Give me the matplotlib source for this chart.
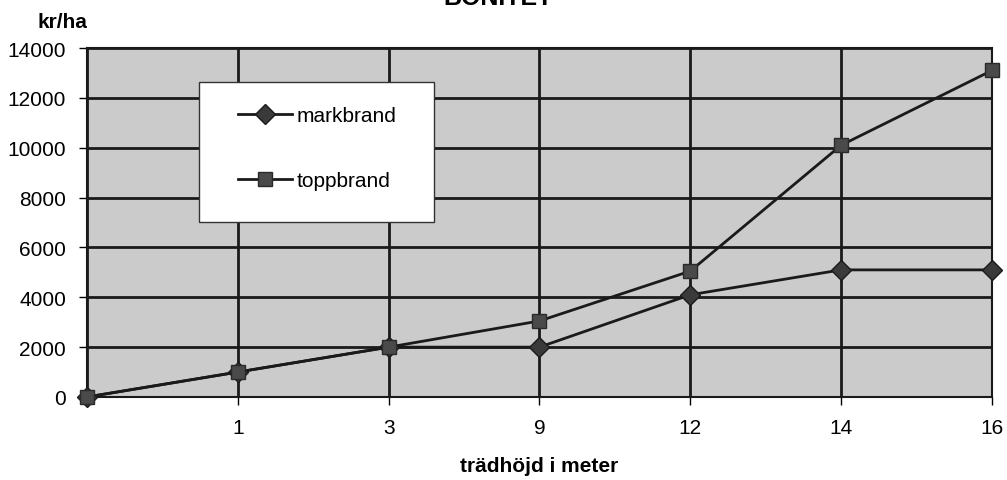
import numpy as np
import matplotlib.pyplot as plt
from matplotlib.patches import Rectangle

plt.rcParams.update({
    "font.family": ["Liberation Sans", "DejaVu Sans"],
    "font.size": 15,
})

categories = ["", "1", "3", "9", "12", "14", "16"]
markbrand = [0, 1000, 2000, 2000, 4100, 5100, 5100]
toppbrand = [0, 1000, 2000, 3050, 5050, 10100, 13100]
yticks = [0, 2000, 4000, 6000, 8000, 10000, 12000, 14000]

x = np.arange(len(categories))

fig = plt.figure(figsize=(10.07, 4.81), dpi=100)
ax = fig.add_axes([0.0864, 0.1726, 0.8986, 0.7254])
ax.set_facecolor("#cbcbcb")

for yv in yticks:
    ax.axhline(yv, color="#1a1a1a", lw=2.0, zorder=1)
for xv in x:
    ax.axvline(xv, color="#1a1a1a", lw=2.0, zorder=1)

ax.plot(x, markbrand, color="#1a1a1a", lw=2.0, marker="D", markersize=10,
        markerfacecolor="#3a3a3a", markeredgecolor="#1a1a1a", label="markbrand",
        zorder=3, clip_on=False)
ax.plot(x, toppbrand, color="#1a1a1a", lw=2.0, marker="s", markersize=10,
        markerfacecolor="#4a4a4a", markeredgecolor="#2a2a2a", label="toppbrand",
        zorder=4, clip_on=False)

ax.set_xlim(0, len(categories) - 1)
ax.set_ylim(0, 14000)
ax.set_yticks(yticks)
ax.set_xticks(x)
ax.set_xticklabels(categories)
ax.tick_params(axis="both", direction="out", length=6, width=1, labelsize=15)
ax.tick_params(axis="x", pad=9)
ax.tick_params(axis="y", pad=9)
for s in ax.spines.values():
    s.set_color("#1a1a1a")
    s.set_linewidth(1.5)

# legend box (white, thin border) as in the original
box = Rectangle((0.124, 0.501), 0.2597, 0.401, transform=ax.transAxes,
                facecolor="white", edgecolor="#333333", lw=1.0, zorder=5)
ax.add_patch(box)
leg = ax.legend(loc="upper left", bbox_to_anchor=(0.1669, 0.834), fontsize=15,
                frameon=False, labelspacing=2.2, borderpad=0, handlelength=2.6,
                handletextpad=0.2, borderaxespad=0)
leg.set_zorder(6)

ax.set_xlabel("trädhöjd i meter", fontsize=15, fontweight="bold", labelpad=14)
fig.text(0.037, 0.954, "kr/ha", fontsize=15, fontweight="bold", ha="left", va="center")
fig.text(0.495, 0.99, "BONITET", fontsize=18, fontweight="bold", ha="center", va="baseline")

fig.savefig("out.png", dpi=100)
